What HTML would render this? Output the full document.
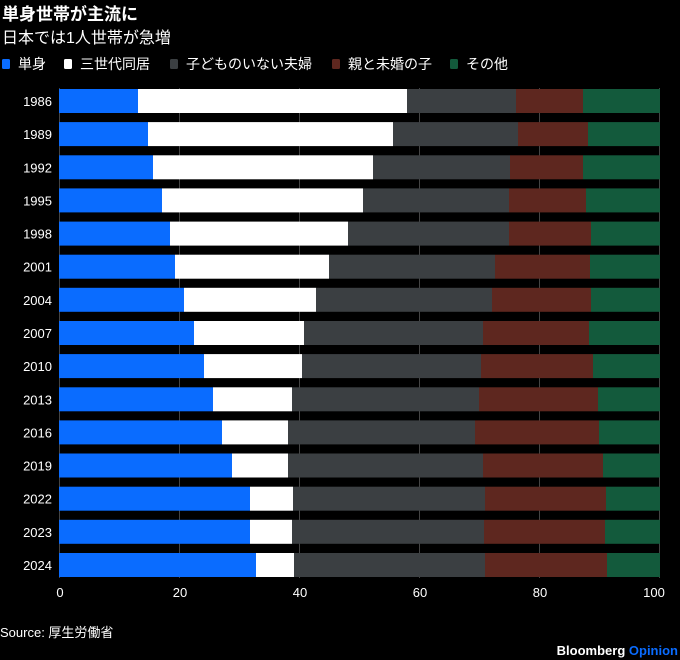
<!DOCTYPE html>
<html><head><meta charset="utf-8"><style>
body{margin:0;background:#000;}
svg{display:block}
text{font-family:"Liberation Sans","Noto Sans CJK JP",sans-serif;fill:#fff}
.b{fill:#0a6cff}.w{fill:#fff}.g{fill:#3b3f42}.r{fill:#5e271f}.e{fill:#135a3c}
</style></head><body>
<svg width="680" height="660" xmlns="http://www.w3.org/2000/svg">
<rect width="680" height="660" fill="#000"/>
<text x="2" y="20" font-size="17" font-weight="bold">単身世帯が主流に</text>
<text x="2" y="43" font-size="16">日本では1人世帯が急増</text>
<g font-size="14">
<rect x="2" y="59" width="8" height="10" rx="1.5" class="b"/><text x="18" y="69">単身</text>
<rect x="64" y="59" width="8" height="10" rx="1.5" class="w"/><text x="80" y="69">三世代同居</text>
<rect x="170" y="59" width="8" height="10" rx="1.5" class="g"/><text x="186" y="69">子どものいない夫婦</text>
<rect x="332" y="59" width="8" height="10" rx="1.5" class="r"/><text x="348" y="69">親と未婚の子</text>
<rect x="450" y="59" width="8" height="10" rx="1.5" class="e"/><text x="466" y="69">その他</text>
</g>
<g stroke="#444" stroke-width="1">
<line x1="59.5" y1="88" x2="59.5" y2="578"/>
<line x1="179.5" y1="88" x2="179.5" y2="578"/>
<line x1="299.5" y1="88" x2="299.5" y2="578"/>
<line x1="419.5" y1="88" x2="419.5" y2="578"/>
<line x1="539.5" y1="88" x2="539.5" y2="578"/>
<line x1="659.5" y1="88" x2="659.5" y2="578"/>
</g>
<g font-size="13">
<g transform="translate(0,89)"><rect x="59" width="79" height="24" class="b"/><rect x="138" width="269" height="24" class="w"/><rect x="407" width="109" height="24" class="g"/><rect x="516" width="67" height="24" class="r"/><rect x="583" width="77" height="24" class="e"/><text x="52" y="17" text-anchor="end">1986</text></g>
<g transform="translate(0,122.1)"><rect x="59" width="89" height="24" class="b"/><rect x="148" width="245" height="24" class="w"/><rect x="393" width="125" height="24" class="g"/><rect x="518" width="70" height="24" class="r"/><rect x="588" width="72" height="24" class="e"/><text x="52" y="17" text-anchor="end">1989</text></g>
<g transform="translate(0,155.3)"><rect x="59" width="94" height="24" class="b"/><rect x="153" width="220" height="24" class="w"/><rect x="373" width="137" height="24" class="g"/><rect x="510" width="73" height="24" class="r"/><rect x="583" width="77" height="24" class="e"/><text x="52" y="17" text-anchor="end">1992</text></g>
<g transform="translate(0,188.4)"><rect x="59" width="103" height="24" class="b"/><rect x="162" width="201" height="24" class="w"/><rect x="363" width="146" height="24" class="g"/><rect x="509" width="77" height="24" class="r"/><rect x="586" width="74" height="24" class="e"/><text x="52" y="17" text-anchor="end">1995</text></g>
<g transform="translate(0,221.6)"><rect x="59" width="111" height="24" class="b"/><rect x="170" width="178" height="24" class="w"/><rect x="348" width="161" height="24" class="g"/><rect x="509" width="82" height="24" class="r"/><rect x="591" width="69" height="24" class="e"/><text x="52" y="17" text-anchor="end">1998</text></g>
<g transform="translate(0,254.7)"><rect x="59" width="116" height="24" class="b"/><rect x="175" width="154" height="24" class="w"/><rect x="329" width="166" height="24" class="g"/><rect x="495" width="95" height="24" class="r"/><rect x="590" width="70" height="24" class="e"/><text x="52" y="17" text-anchor="end">2001</text></g>
<g transform="translate(0,287.8)"><rect x="59" width="125" height="24" class="b"/><rect x="184" width="132" height="24" class="w"/><rect x="316" width="176" height="24" class="g"/><rect x="492" width="99" height="24" class="r"/><rect x="591" width="69" height="24" class="e"/><text x="52" y="17" text-anchor="end">2004</text></g>
<g transform="translate(0,321)"><rect x="59" width="135" height="24" class="b"/><rect x="194" width="110" height="24" class="w"/><rect x="304" width="179" height="24" class="g"/><rect x="483" width="106" height="24" class="r"/><rect x="589" width="71" height="24" class="e"/><text x="52" y="17" text-anchor="end">2007</text></g>
<g transform="translate(0,354.1)"><rect x="59" width="145" height="24" class="b"/><rect x="204" width="98" height="24" class="w"/><rect x="302" width="179" height="24" class="g"/><rect x="481" width="112" height="24" class="r"/><rect x="593" width="67" height="24" class="e"/><text x="52" y="17" text-anchor="end">2010</text></g>
<g transform="translate(0,387.3)"><rect x="59" width="154" height="24" class="b"/><rect x="213" width="79" height="24" class="w"/><rect x="292" width="187" height="24" class="g"/><rect x="479" width="119" height="24" class="r"/><rect x="598" width="62" height="24" class="e"/><text x="52" y="17" text-anchor="end">2013</text></g>
<g transform="translate(0,420.4)"><rect x="59" width="163" height="24" class="b"/><rect x="222" width="66" height="24" class="w"/><rect x="288" width="187" height="24" class="g"/><rect x="475" width="124" height="24" class="r"/><rect x="599" width="61" height="24" class="e"/><text x="52" y="17" text-anchor="end">2016</text></g>
<g transform="translate(0,453.5)"><rect x="59" width="173" height="24" class="b"/><rect x="232" width="56" height="24" class="w"/><rect x="288" width="195" height="24" class="g"/><rect x="483" width="120" height="24" class="r"/><rect x="603" width="57" height="24" class="e"/><text x="52" y="17" text-anchor="end">2019</text></g>
<g transform="translate(0,486.7)"><rect x="59" width="191" height="24" class="b"/><rect x="250" width="43" height="24" class="w"/><rect x="293" width="192" height="24" class="g"/><rect x="485" width="121" height="24" class="r"/><rect x="606" width="54" height="24" class="e"/><text x="52" y="17" text-anchor="end">2022</text></g>
<g transform="translate(0,519.8)"><rect x="59" width="191" height="24" class="b"/><rect x="250" width="42" height="24" class="w"/><rect x="292" width="192" height="24" class="g"/><rect x="484" width="121" height="24" class="r"/><rect x="605" width="55" height="24" class="e"/><text x="52" y="17" text-anchor="end">2023</text></g>
<g transform="translate(0,553)"><rect x="59" width="197" height="24" class="b"/><rect x="256" width="38" height="24" class="w"/><rect x="294" width="191" height="24" class="g"/><rect x="485" width="122" height="24" class="r"/><rect x="607" width="53" height="24" class="e"/><text x="52" y="17" text-anchor="end">2024</text></g>
</g>
<g font-size="13" text-anchor="middle">
<text x="60" y="597">0</text><text x="180" y="597">20</text><text x="300" y="597">40</text><text x="420" y="597">60</text><text x="540" y="597">80</text><text x="654" y="597">100</text>
</g>
<text x="0" y="637" font-size="13">Source: 厚生労働省</text>
<text x="678" y="655" font-size="13" font-weight="bold" text-anchor="end">Bloomberg <tspan fill="#0a6cff">Opinion</tspan></text>
</svg>
</body></html>
